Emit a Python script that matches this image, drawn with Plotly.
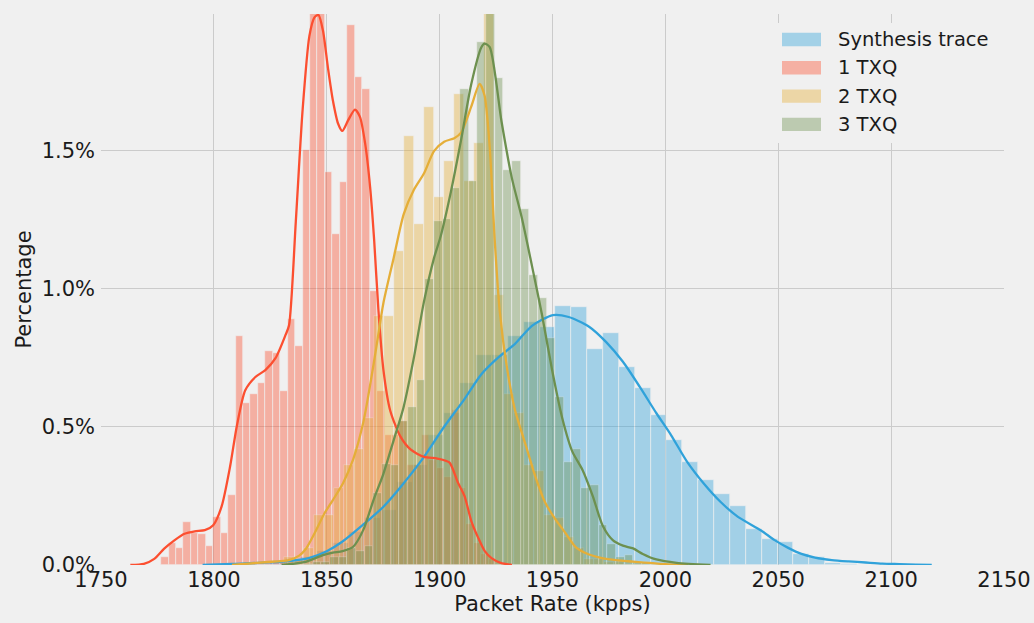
import plotly.graph_objects as go

# ---- histogram data (bar heights in % per kpps) ----
series_names = ["Synthesis trace", "1 TXQ", "2 TXQ", "3 TXQ"]

synth_bin_start = 1817.7
synth_bin_width = 7.03
synth_heights = [0.004, 0.01, 0.02, 0.03, 0.05, 0.08, 0.12, 0.17, 0.20, 0.30,
                 0.36, 0.47, 0.55, 0.66, 0.76, 0.76, 0.83, 0.88, 0.86,
                 0.937, 0.934, 0.78, 0.838, 0.715, 0.642, 0.542, 0.452, 0.374,
                 0.307, 0.256, 0.214, 0.129, 0.093, 0.082, 0.04, 0.03, 0.006, 0.003]

txq1_bin_start = 1776.6
txq1_bin_width = 3.30
txq1_heights = [0.028, 0.079, 0.062, 0.154, 0.117, 0.111, 0.068, 0.172, 0.117, 0.252,
                0.830, 0.585, 0.620, 0.658, 0.775, 0.768, 0.628, 0.89, 0.793, 1.50,
                2.10, 2.05, 1.42, 1.197, 1.387, 1.953, 1.764, 1.723, 0.99, 0.63,
                0.47, 0.47, 0.52, 0.36, 0.36, 0.47, 0.38, 0.35, 0.32, 0.56,
                0.28, 0.15, 0.08, 0.04, 0.02]

txq2_bin_start = 1831.1
txq2_bin_width = 4.43
txq2_heights = [0.03, 0.02, 0.06, 0.18, 0.18, 0.278, 0.36, 0.418, 0.532, 0.90,
                0.90, 1.135, 1.552, 1.232, 1.655, 1.332, 1.461, 1.703, 1.39, 1.525,
                2.10, 0.975, 0.62, 0.55, 0.36, 0.34, 0.18, 0.17, 0.10, 0.06,
                0.02, 0.02, 0.01, 0.01, 0.005, 0.005]

txq3_bin_start = 1840.0
txq3_bin_width = 3.835
txq3_heights = [0.005, 0.01, 0.01, 0.03, 0.03, 0.06, 0.05, 0.07, 0.26, 0.365,
                0.36, 0.52, 0.57, 0.67, 1.034, 1.245, 1.25, 1.363, 1.72, 1.39,
                1.89, 2.05, 1.763, 1.428, 1.462, 1.286, 1.05, 0.965, 0.82, 0.606,
                0.371, 0.418, 0.28, 0.29, 0.143, 0.076, 0.029, 0.036, 0.01, 0.01]

# ---- kernel density curves (x in kpps, y in %) ----
synth_kde_x = [1795, 1808, 1830, 1842, 1850, 1857, 1866, 1875, 1884, 1893, 1902, 1911,
               1918.5, 1925.9, 1933.4, 1940.9, 1950.2, 1957.2, 1966.2, 1973.7, 1981.2,
               1988.6, 1996.1, 2002.5, 2009.5, 2017, 2024.5, 2032, 2042.4, 2048.4,
               2054.4, 2060.3, 2066.3, 2073.7, 2081.2, 2088.7, 2096.1, 2103.6, 2111, 2118]
synth_kde_y = [0, 0.004, 0.012, 0.025, 0.05, 0.085, 0.145, 0.21, 0.295, 0.39, 0.50, 0.60,
               0.69, 0.75, 0.80, 0.865, 0.904, 0.897, 0.862, 0.807, 0.735,
               0.645, 0.548, 0.47, 0.375, 0.295, 0.228, 0.175, 0.125, 0.09,
               0.062, 0.04, 0.027, 0.018, 0.013, 0.009, 0.005, 0.003, 0.001, 0]

txq1_kde_x = [1763, 1769, 1773.6, 1778, 1782.5, 1787, 1791.5, 1796, 1799.7, 1803.4,
              1807.2, 1810.2, 1813.9, 1818.4, 1822.8, 1827.3, 1831.8, 1833.3, 1836.3,
              1839.3, 1842.3, 1844.5, 1846.3, 1848.3, 1850.5, 1852.7, 1855, 1856.9,
              1859.5, 1862.5, 1864.7, 1867, 1869.2, 1871, 1872.9, 1875.1, 1878.1,
              1882.6, 1887.1, 1893.1, 1899, 1904.3, 1908, 1911, 1914, 1917, 1920,
              1923, 1927, 1932]
txq1_kde_y = [0, 0.004, 0.022, 0.059, 0.089, 0.113, 0.122, 0.126, 0.144, 0.211,
              0.357, 0.504, 0.632, 0.68, 0.705, 0.748, 0.833, 0.867, 1.243,
              1.645, 1.913, 1.98, 1.99, 1.934, 1.80, 1.681, 1.597, 1.570,
              1.609, 1.647, 1.621, 1.525, 1.368, 1.175, 0.92, 0.706, 0.559,
              0.465, 0.418, 0.391, 0.385, 0.371, 0.30, 0.25, 0.16, 0.10, 0.05,
              0.025, 0.008, 0]

txq2_kde_x = [1808, 1822.8, 1833.3, 1837.8, 1840.8, 1844.5, 1849, 1852.7, 1857.2, 1861.7,
              1866.2, 1869.2, 1872.2, 1875.1, 1879.6, 1884.1, 1888.6, 1893.1, 1897.5,
              1902, 1906.5, 1909.5, 1914, 1917.7, 1919.9, 1922.2, 1924.4, 1926.6,
              1929.7, 1933.4, 1937.9, 1942.4, 1946.8, 1951.3, 1955.8, 1960.3, 1966.2,
              1975.2, 1985.7, 2000, 2010]
txq2_kde_y = [0, 0.01, 0.018, 0.034, 0.059, 0.113, 0.187, 0.235, 0.296, 0.382,
              0.516, 0.65, 0.80, 0.948, 1.109, 1.269, 1.357, 1.417, 1.497,
              1.531, 1.544, 1.564, 1.658, 1.74, 1.698, 1.51, 1.176, 0.92,
              0.72, 0.56, 0.44, 0.32, 0.225, 0.165, 0.115, 0.065, 0.038,
              0.02, 0.012, 0.003, 0]

txq3_kde_x = [1830, 1840, 1845, 1848.3, 1852.7, 1857, 1861.7, 1866.2, 1870.7, 1875.1,
              1879.6, 1884, 1888.6, 1893, 1897.5, 1900.5, 1905, 1909.5, 1914, 1918.5,
              1919.9, 1922.2, 1927.4, 1931.9, 1936.4, 1940.9, 1945.3, 1949.8, 1954.3,
              1958.8, 1963.3, 1967.8, 1972.2, 1976.7, 1981.2, 1985.7, 1990, 1996,
              2005, 2020]
txq3_kde_y = [0, 0.01, 0.025, 0.036, 0.045, 0.05, 0.066, 0.127, 0.235, 0.33,
              0.45, 0.57, 0.75, 0.95, 1.11, 1.19, 1.35, 1.537, 1.739, 1.873,
              1.886, 1.873, 1.605, 1.403, 1.256, 1.082, 0.907, 0.706, 0.532,
              0.41, 0.344, 0.25, 0.143, 0.09, 0.07, 0.06, 0.04, 0.02,
              0.008, 0]

# ---- axis ticks ----
x_ticks = [1750, 1800, 1850, 1900, 1950, 2000, 2050, 2100, 2150]
y_ticks = [0.0, 0.5, 1.0, 1.5]
y_tick_labels = ["0.0%", "0.5%", "1.0%", "1.5%"]

colors = ["#30a2da", "#fc4f30", "#e5ae38", "#6d904f"]
FONT = "DejaVu Sans"
BG = "#f0f0f0"
TEXT = "#1a1a1a"


def rgba(hex_color, alpha):
    h = hex_color.lstrip("#")
    r, g, b = int(h[0:2], 16), int(h[2:4], 16), int(h[4:6], 16)
    return f"rgba({r},{g},{b},{alpha})"


hists = [
    (synth_bin_start, synth_bin_width, synth_heights),
    (txq1_bin_start, txq1_bin_width, txq1_heights),
    (txq2_bin_start, txq2_bin_width, txq2_heights),
    (txq3_bin_start, txq3_bin_width, txq3_heights),
]
kdes = [
    (synth_kde_x, synth_kde_y),
    (txq1_kde_x, txq1_kde_y),
    (txq2_kde_x, txq2_kde_y),
    (txq3_kde_x, txq3_kde_y),
]

fig = go.Figure()

for name, color, (start, width, heights), (kx, ky) in zip(series_names, colors, hists, kdes):
    centers = [start + width * (i + 0.5) for i in range(len(heights))]
    fig.add_trace(go.Bar(
        x=centers, y=heights, width=width, name=name,
        marker=dict(color=color, line=dict(color=BG, width=0.6)),
        opacity=0.4, showlegend=False, hoverinfo="skip",
    ))
    fig.add_trace(go.Scatter(
        x=kx, y=ky, mode="lines", name=name,
        line=dict(color=color, width=2.3, shape="spline", smoothing=0.7),
        showlegend=False, hoverinfo="skip",
    ))

# plot-area geometry in pixels (used to place the legend box)
PL, PR, PT, PB = 101, 1004, 14, 565


def px(x):
    return (x - PL) / (PR - PL)


def py(y):
    return (PB - y) / (PB - PT)


shapes = [dict(type="rect", xref="paper", yref="paper",
               x0=px(769), x1=px(1000), y0=py(143), y1=py(23),
               fillcolor=BG, line=dict(width=0), layer="above")]
annotations = []
row_centers = [39.5, 67.8, 96.1, 124.4]
for name, color, yc in zip(series_names, colors, row_centers):
    shapes.append(dict(type="rect", xref="paper", yref="paper",
                       x0=px(782), x1=px(821), y0=py(yc + 6.7), y1=py(yc - 6.7),
                       fillcolor=rgba(color, 0.4), line=dict(width=0), layer="above"))
    annotations.append(dict(xref="paper", yref="paper", x=px(836), y=py(yc),
                            xanchor="left", yanchor="middle", text=name, showarrow=False,
                            font=dict(family=FONT, size=19.5, color=TEXT)))

fig.update_layout(
    width=1034, height=623,
    margin=dict(l=PL, r=1034 - PR, t=PT, b=623 - PB),
    paper_bgcolor=BG, plot_bgcolor=BG,
    barmode="overlay", bargap=0,
    font=dict(family=FONT, size=21, color=TEXT),
    shapes=shapes, annotations=annotations,
    showlegend=False,
    xaxis=dict(
        range=[1750, 2150], tickmode="array", tickvals=x_ticks,
        showgrid=True, gridcolor="#cbcbcb", gridwidth=1,
        zeroline=False, showline=False, ticks="",
        tickfont=dict(family=FONT, size=21, color=TEXT),
        title=dict(text="Packet Rate (kpps)", standoff=4,
                   font=dict(family=FONT, size=21, color=TEXT)),
        automargin=False,
    ),
    yaxis=dict(
        range=[0, 1.993], tickmode="array", tickvals=y_ticks, ticktext=y_tick_labels,
        showgrid=True, gridcolor="#cbcbcb", gridwidth=1,
        zeroline=False, showline=False, ticks="", ticklabelstandoff=5,
        tickfont=dict(family=FONT, size=21, color=TEXT),
        title=dict(text="Percentage", standoff=4,
                   font=dict(family=FONT, size=21, color=TEXT)),
        automargin=False,
    ),
)

fig.write_html("out.html")
